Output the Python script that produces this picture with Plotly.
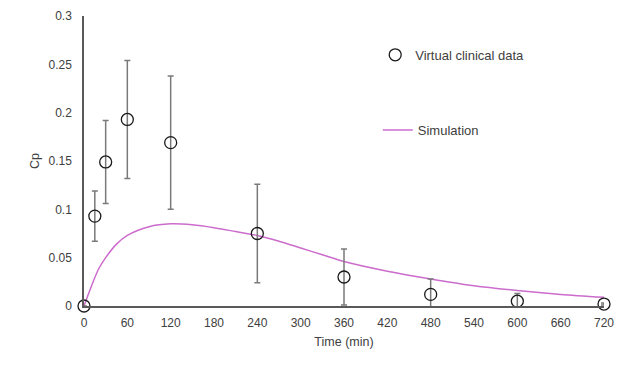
import plotly.graph_objects as go

# Observed (virtual clinical) data
time_obs = [0, 15, 30, 60, 120, 240, 360, 480, 600, 720]
cp_obs = [0.0, 0.093, 0.149, 0.193, 0.169, 0.075, 0.030, 0.012, 0.005, 0.002]
cp_err = [0.0, 0.026, 0.043, 0.061, 0.069, 0.051, 0.029, 0.016, 0.008, 0.001]

# Simulation curve
time_sim = [0, 5, 10, 20, 30, 45, 60, 90, 120, 150, 180, 210, 240, 270, 300,
            330, 360, 420, 480, 540, 600, 660, 720]
cp_sim = [0.0, 0.010, 0.020, 0.038, 0.050, 0.064, 0.073, 0.082, 0.085, 0.084,
          0.081, 0.077, 0.073, 0.067, 0.060, 0.053, 0.046, 0.036, 0.028, 0.021,
          0.016, 0.012, 0.009]

x_ticks = list(range(0, 721, 60))
y_ticks = [0, 0.05, 0.1, 0.15, 0.2, 0.25, 0.3]
y_tick_text = ["0", "0.05", "0.1", "0.15", "0.2", "0.25", "0.3"]

font_family = "Liberation Sans, Arial, sans-serif"
text_color = "#404040"

fig = go.Figure()

fig.add_trace(go.Scatter(
    x=time_sim, y=cp_sim, mode="lines", name="Simulation",
    line=dict(color="#CC6CCC", width=1.5, shape="spline", smoothing=0.8),
    legend="legend2",
))

# error bars only (clipped to the axes)
fig.add_trace(go.Scatter(
    x=time_obs, y=cp_obs, mode="markers", showlegend=False,
    marker=dict(size=1, color="rgba(0,0,0,0)"),
    error_y=dict(type="data", array=cp_err, visible=True,
                 color="#7a7a7a", thickness=1.5, width=3),
    cliponaxis=True, hoverinfo="skip",
))

fig.add_trace(go.Scatter(
    x=time_obs, y=cp_obs, mode="markers", name="Virtual clinical data",
    marker=dict(symbol="circle-open", size=12, color="#1a1a1a",
                line=dict(width=1.3, color="#1a1a1a")),
    cliponaxis=False, legend="legend",
))

fig.update_layout(
    width=640, height=368,
    margin=dict(l=76, r=44, t=8, b=70),
    paper_bgcolor="white", plot_bgcolor="white",
    font=dict(family=font_family, size=12, color=text_color),
    legend=dict(x=0.56, y=0.866, xanchor="left", yanchor="middle",
                bgcolor="rgba(0,0,0,0)", font=dict(size=13, color=text_color)),
    legend2=dict(x=0.565, y=0.607, xanchor="left", yanchor="middle",
                 bgcolor="rgba(0,0,0,0)", font=dict(size=13, color=text_color)),
    xaxis=dict(range=[0, 720], tickvals=x_ticks, showgrid=False, zeroline=False,
               showline=True, linecolor="#595959", linewidth=1.5,
               ticks="", ticklabelstandoff=5, tickfont=dict(size=12),
               automargin=False,
               title=dict(text="Time (min)", standoff=8,
                          font=dict(size=12.5, color=text_color))),
    yaxis=dict(range=[0, 0.3], tickvals=y_ticks, ticktext=y_tick_text,
               showgrid=False, zeroline=False,
               showline=True, linecolor="#595959", linewidth=1.5,
               ticks="", ticklabelstandoff=8, tickfont=dict(size=12),
               automargin=False,
               title=dict(text="Cp", standoff=6,
                          font=dict(size=12.5, color=text_color))),
)

fig.write_html("out.html")
